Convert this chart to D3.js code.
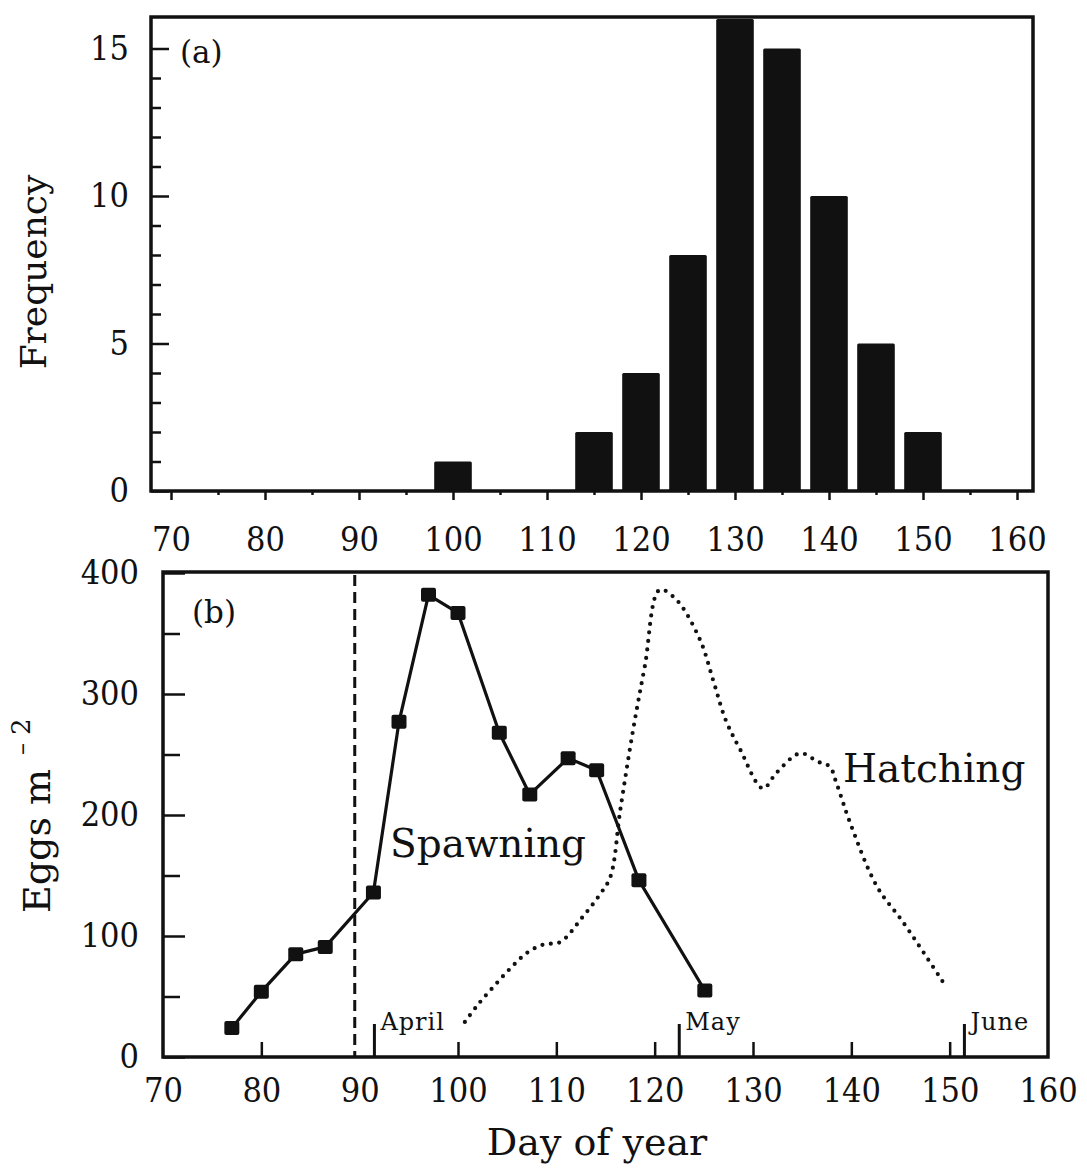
<!DOCTYPE html>
<html>
<head>
<meta charset="utf-8">
<script src="https://cdn.jsdelivr.net/npm/d3@7/dist/d3.min.js"></script>
<style>
  html, body { margin: 0; padding: 0; background: #fff; }
  svg { display: block; }
  .tick text { font-family: "DejaVu Serif Condensed", "DejaVu Serif", serif; fill: #111; }
</style>
</head>
<body>
<script>
// ---------------- DATA ----------------
// Panel (a): histogram of hatching day
const histDays = [100, 115, 120, 125, 130, 135, 140, 145, 150];
const histFreq = [1, 2, 4, 8, 16, 15, 10, 5, 2];
const histBarDays = 4;            // bar width in days

// Panel (b): spawning (eggs per m^2, with markers)
const spawnDays = [77, 80, 83.5, 86.5, 91.4, 94, 97, 100, 104.2, 107.3, 111.2, 114.1, 118.4, 125.1];
const spawnEggs = [24, 54, 85, 91, 136, 277, 382, 367, 268, 217, 247, 237, 146, 55];

// Panel (b): hatching (dotted curve)
const hatchDays = [100.7, 102, 103.6, 105.3, 107, 108.7, 110.4, 112.7, 114.4, 115.5, 116.5, 117.8, 119, 120.5, 122.2, 124.6, 126, 127.2, 128.7, 131, 132.4, 134.8, 136.6, 137.8, 138.5, 139.9, 142.6, 145.3, 149.4];
const hatchEggs = [29, 43, 58, 73, 86, 93, 95, 116, 134, 149, 204, 270, 323, 386, 378, 345, 310, 279, 254, 222, 235, 251, 244, 240, 226, 193, 141, 111, 61];

// Month boundaries and dashed reference line
const monthDays = [91.5, 122.5, 151.5];
const monthNames = ["April", "May", "June"];
const dashedDay = 89.5;

// Axis ticks
const xTicksMajor = [70, 80, 90, 100, 110, 120, 130, 140, 150, 160];
const xTicksMinorA = [75, 85, 95, 105, 115, 125, 135, 145, 155];
const yTicksA = [0, 5, 10, 15];
const yTicksMinorA = [1, 2, 3, 4, 6, 7, 8, 9, 11, 12, 13, 14, 16];
const xTicksInnerB = [80, 100, 110, 120, 130, 140, 150];
const yTicksB = [0, 100, 200, 300, 400];
const yTicksMinorB = [50, 150, 250, 350];

// ---------------- LAYOUT ----------------
const W = 1087, H = 1172;
const serif = '"DejaVu Serif", serif';
const ink = "#111";

const svg = d3.select("body").append("svg").attr("width", W).attr("height", H);
svg.append("rect").attr("width", W).attr("height", H).attr("fill", "#fff");

// ======== Panel (a) ========
const A = { left: 151, right: 1033, top: 17, bottom: 491 };
const xa = d3.scaleLinear().domain([70, 160]).range([171, 1017]);
const ya = d3.scaleLinear().domain([0, 16]).range([A.bottom, 19]);

const gA = svg.append("g");
gA.append("clipPath").attr("id", "clipA").append("rect")
  .attr("x", A.left).attr("y", A.top).attr("width", A.right - A.left).attr("height", A.bottom - A.top);

gA.append("g").attr("clip-path", "url(#clipA)")
  .selectAll("rect").data(histDays).join("rect")
  .attr("x", (d) => xa(d - histBarDays / 2))
  .attr("width", (d) => xa(d + histBarDays / 2) - xa(d - histBarDays / 2))
  .attr("y", (d, i) => ya(histFreq[i]))
  .attr("height", (d, i) => ya(0) - ya(histFreq[i]))
  .attr("rx", 1.5)
  .attr("fill", ink);

// left axis (inward ticks)
gA.append("g").attr("transform", `translate(${A.left},0)`)
  .call(d3.axisLeft(ya).tickValues(yTicksA).tickSizeInner(-18).tickSizeOuter(0).tickPadding(22).tickFormat(d3.format("d")));
gA.append("g").attr("transform", `translate(${A.left},0)`)
  .call(d3.axisLeft(ya).tickValues(yTicksMinorA.filter(v => ya(v) > A.top + 4)).tickSizeInner(-10).tickSizeOuter(0).tickFormat(""));
// bottom axis (outward ticks)
gA.append("g").attr("transform", `translate(0,${A.bottom})`)
  .call(d3.axisBottom(xa).tickValues(xTicksMajor).tickSizeInner(9).tickSizeOuter(0).tickPadding(27).tickFormat(d3.format("d")));
gA.append("g").attr("transform", `translate(0,${A.bottom})`)
  .call(d3.axisBottom(xa).tickValues(xTicksMinorA).tickSizeInner(4).tickSizeOuter(0).tickFormat(""));

// frame
gA.append("path")
  .attr("d", `M${A.left},${A.bottom} L${A.right},${A.bottom} L${A.right},${A.top} L${A.left},${A.top} Z`)
  .attr("fill", "none").attr("stroke", ink).attr("stroke-width", 3.5);

gA.append("text").attr("x", 180).attr("y", 63)
  .attr("font-family", serif).attr("font-size", 31).attr("fill", ink).text("(a)");

gA.append("text").attr("transform", "translate(46,272) rotate(-90)")
  .attr("text-anchor", "middle")
  .attr("font-family", serif).attr("font-size", 36).attr("fill", ink).text("Frequency");

// ======== Panel (b) ========
const B = { left: 163, right: 1048, top: 572, bottom: 1057 };
const xb = d3.scaleLinear().domain([70, 160]).range([B.left, B.right]);
const yb = d3.scaleLinear().domain([0, 400]).range([B.bottom, 573]);

const gB = svg.append("g");

// left axis inward
gB.append("g").attr("transform", `translate(${B.left},0)`)
  .call(d3.axisLeft(yb).tickValues(yTicksB).tickSizeInner(-22).tickSizeOuter(0).tickPadding(24).tickFormat(d3.format("d")));
gB.append("g").attr("transform", `translate(${B.left},0)`)
  .call(d3.axisLeft(yb).tickValues(yTicksMinorB).tickSizeInner(-17).tickSizeOuter(0).tickFormat(""));
// bottom axis: labels for all, inward ticks for inner values
gB.append("g").attr("transform", `translate(0,${B.bottom})`)
  .call(d3.axisBottom(xb).tickValues(xTicksMajor).tickSizeInner(0).tickSizeOuter(0).tickPadding(21).tickFormat(d3.format("d")));
gB.append("g").attr("transform", `translate(0,${B.bottom})`)
  .call(d3.axisBottom(xb).tickValues(xTicksInnerB).tickSizeInner(-15).tickSizeOuter(0).tickFormat(""));

// month markers
gB.append("g").selectAll("line").data(monthDays).join("line")
  .attr("x1", d => xb(d)).attr("x2", d => xb(d))
  .attr("y1", B.bottom).attr("y2", B.bottom - 33)
  .attr("stroke", ink).attr("stroke-width", 3);
gB.append("g").selectAll("text").data(monthDays).join("text")
  .attr("x", d => xb(d) + 6).attr("y", 1030)
  .attr("font-family", serif).attr("font-size", 24).attr("letter-spacing", 1)
  .attr("fill", ink).text((d, i) => monthNames[i]);

// dashed reference line
gB.append("line")
  .attr("x1", xb(dashedDay)).attr("x2", xb(dashedDay))
  .attr("y1", B.top + 3).attr("y2", B.bottom)
  .attr("stroke", ink).attr("stroke-width", 3).attr("stroke-dasharray", "11,6");

// hatching dotted curve
const hatchData = hatchDays.map((d, i) => [d, hatchEggs[i]]);
gB.append("path")
  .attr("d", d3.line().x(d => xb(d[0])).y(d => yb(d[1])).curve(d3.curveCatmullRom.alpha(0.5))(hatchData))
  .attr("fill", "none").attr("stroke", ink).attr("stroke-width", 4.2)
  .attr("stroke-linecap", "round").attr("stroke-dasharray", "0,8.5");

// spawning line with square markers
const spawnData = spawnDays.map((d, i) => [d, spawnEggs[i]]);
gB.append("path")
  .attr("d", d3.line().x(d => xb(d[0])).y(d => yb(d[1]))(spawnData))
  .attr("fill", "none").attr("stroke", ink).attr("stroke-width", 3.2).attr("stroke-linejoin", "round");
gB.append("g").selectAll("rect").data(spawnData).join("rect")
  .attr("x", d => xb(d[0]) - 7.5).attr("y", d => yb(d[1]) - 7)
  .attr("width", 15).attr("height", 14).attr("rx", 2)
  .attr("fill", ink);

// frame
gB.append("path")
  .attr("d", `M${B.left},${B.bottom} L${B.right},${B.bottom} L${B.right},${B.top} L${B.left},${B.top} Z`)
  .attr("fill", "none").attr("stroke", ink).attr("stroke-width", 3.5);

// labels
gB.append("text").attr("x", 192).attr("y", 623)
  .attr("font-family", serif).attr("font-size", 31).attr("fill", ink).text("(b)");
gB.append("text").attr("x", 390).attr("y", 857)
  .attr("font-family", serif).attr("font-size", 39).attr("fill", ink).text("Spawning");
gB.append("text").attr("x", 843).attr("y", 782)
  .attr("font-family", serif).attr("font-size", 39).attr("fill", ink).text("Hatching");

const yTitle = gB.append("text").attr("transform", "translate(50,913) rotate(-90)")
  .attr("font-family", serif).attr("font-size", 38).attr("fill", ink);
yTitle.append("tspan").text("Eggs m");
yTitle.append("tspan").attr("dx", 14).attr("dy", -20).attr("font-size", 24).text("–");
yTitle.append("tspan").attr("dx", 8).attr("font-size", 26).text("2");

svg.append("text").attr("x", 597).attr("y", 1155)
  .attr("text-anchor", "middle")
  .attr("font-family", serif).attr("font-size", 38).attr("fill", ink).text("Day of year");

// style axes
svg.selectAll(".domain").remove();
svg.selectAll(".tick line").attr("stroke", ink).attr("stroke-width", 2.5);
svg.selectAll(".tick text").attr("font-size", 34).attr("fill", ink);
</script>
</body>
</html>
